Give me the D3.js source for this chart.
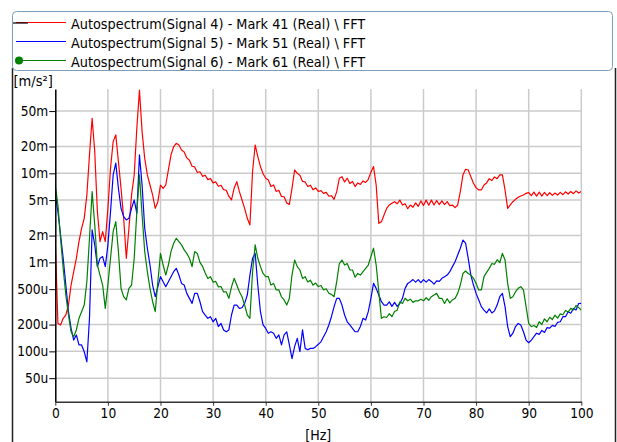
<!DOCTYPE html>
<html>
<head>
<meta charset="utf-8">
<script src="https://cdn.jsdelivr.net/npm/d3@7"></script>
<style>
body { margin: 0; background: #fff; }
svg { display: block; font-family: "DejaVu Sans Condensed", "DejaVu Sans", sans-serif; }
</style>
</head>
<body>
<svg id="chart" width="617" height="442"></svg>
<script>
// FFT bins: 0..100 Hz, 0.5 Hz apart
const fStart = 0
const fStep = 0.5

const names = [
	'Autospectrum(Signal 4) - Mark 41 (Real) \\ FFT',
	'Autospectrum(Signal 5) - Mark 51 (Real) \\ FFT',
	'Autospectrum(Signal 6) - Mark 61 (Real) \\ FFT'
]
const cols = ['#ff0000', '#0000ff', '#008000']

// values in u (1e-6 m/s^2)
const sig4 = [1710, 206, 198, 235, 256, 331, 556, 785, 1110, 1710,
	2410, 3120, 5710, 16100, 41500, 17500, 3710, 1710, 2210, 1710,
	4040, 11400, 22700, 27000, 13500, 6780, 3120, 1110, 2410, 5710,
	9580, 32000, 86000, 29400, 14700, 9580, 7390, 5710, 4040, 4800,
	7390, 6780, 7390, 10900, 16100, 19900, 21700, 20800, 18300, 17400,
	14900, 14000, 12000, 11800, 10200, 10400, 9250, 9500, 8500, 8700,
	7800, 8000, 7150, 7350, 6550, 6450, 5500, 5020, 6780, 8060,
	6220, 5020, 4040, 3120, 2630, 10400, 20800, 15400, 11900, 9900,
	8800, 8400, 7100, 7400, 6250, 6450, 5500, 5450, 4650, 4480,
	6780, 10900, 10000, 9500, 8100, 8000, 7100, 7350, 6550, 6850,
	6250, 6400, 5950, 6100, 5550, 5600, 5100, 6220, 8790, 9170,
	8000, 8800, 7700, 8100, 7100, 7800, 7500, 8200, 7900, 8560,
	10300, 11900, 7390, 2740, 2860, 3400, 4040, 4410, 4600, 4800,
	4550, 5000, 4400, 4550, 4000, 4400, 4150, 4650, 4250, 4900,
	4350, 5000, 4380, 5000, 4400, 4950, 4450, 4900, 4450, 4800,
	4330, 4400, 4110, 4410, 6220, 9580, 11100, 10900, 9170, 7720,
	6900, 6500, 6500, 7390, 7800, 8700, 8300, 9100, 8700, 9600,
	9580, 6500, 4040, 4410, 4800, 5100, 5380, 5560, 5710, 5960,
	6060, 5600, 6150, 5550, 6150, 5550, 6100, 5600, 6050, 5650,
	6000, 5700, 6100, 5750, 6200, 5850, 6250, 5900, 6350, 6000,
	6250]

const sig5 = [5710, 3710, 2030, 1110, 556, 279, 181, 134, 153, 118,
	118, 99, 76, 235, 2310, 1570, 895, 1110, 1160, 895,
	1570, 3710, 9580, 13000, 6780, 4040, 3260, 2990, 3120, 4040,
	5020, 3550, 16100, 7390, 2410, 1440, 933, 556, 411, 530,
	690, 606, 533, 606, 690, 785, 856, 720, 580, 556,
	448, 394, 346, 448, 448, 361, 279, 256, 235, 245,
	215, 235, 190, 206, 174, 166, 174, 256, 331, 331,
	304, 309, 346, 429, 720, 1110, 1260, 556, 279, 198,
	181, 160, 166, 160, 140, 153, 118, 153, 166, 118,
	83, 113, 140, 99, 174, 108, 104, 108, 108, 113,
	120, 128, 146, 166, 198, 245, 318, 394, 394, 331,
	256, 215, 198, 181, 166, 166, 190, 235, 225, 279,
	394, 580, 510, 429, 361, 331, 331, 360, 320, 355,
	320, 345, 394, 510, 580, 606, 640, 600, 640, 590,
	640, 600, 640, 610, 570, 620, 610, 661, 690, 720,
	785, 895, 1017, 1210, 1440, 1780, 1640, 1110, 720, 556,
	448, 378, 318, 291, 270, 300, 270, 285, 331, 411,
	448, 318, 190, 146, 160, 190, 206, 198, 166, 134,
	125, 134, 146, 160, 155, 172, 163, 185, 182, 196,
	190, 212, 215, 245, 245, 278, 268, 303, 292, 345,
	346]

const sig6 = [7200, 4410, 1860, 856, 429, 256, 166, 146, 174, 235,
	279, 331, 606, 1860, 6220, 2630, 933, 720, 556, 304,
	556, 1110, 2210, 2860, 1320, 510, 411, 378, 510, 556,
	1110, 3710, 9580, 3400, 1320, 785, 510, 361, 279, 606,
	1260, 933, 720, 933, 1320, 1640, 1860, 1710, 1570, 1380,
	1260, 1110, 895, 1320, 1260, 1000, 900, 760, 660, 690,
	600, 610, 530, 535, 465, 465, 394, 530, 661, 556,
	468, 411, 331, 256, 235, 785, 1570, 1110, 895, 750,
	690, 690, 555, 580, 490, 490, 410, 378, 331, 394,
	720, 1060, 895, 820, 660, 690, 600, 630, 555, 585,
	535, 550, 490, 505, 450, 437, 411, 606, 970, 1060,
	933, 970, 820, 820, 680, 750, 720, 785, 856, 933,
	1160, 1440, 933, 468, 235, 245, 240, 265, 245, 280,
	290, 360, 345, 395, 370, 385, 355, 370, 370, 385,
	370, 400, 375, 411, 429, 448, 394, 395, 345, 390,
	350, 378, 394, 448, 556, 750, 800, 750, 720, 661,
	580, 490, 490, 690, 770, 856, 970, 950, 1070, 990,
	1260, 1060, 580, 394, 411, 468, 510, 533, 490, 318,
	206, 190, 195, 185, 215, 200, 232, 215, 242, 228,
	255, 236, 264, 258, 288, 276, 305, 292, 328, 310,
	291]

const xTicks = [0, 10, 20, 30, 40, 50, 60, 70, 80, 90, 100]
const yTicks = [50, 100, 200, 500, 1000, 2000, 5000, 10000, 20000, 50000]

const series = [sig4, sig5, sig6]

const svg = d3.select('#chart')
const font = '"DejaVu Sans Condensed", "DejaVu Sans", sans-serif'

const x = d3.scaleLinear().domain([0, 100]).range([55.3, 581.3])
const y = d3.scaleLog().domain([27.2, 88500]).range([401.7, 89])

const fmt = v => v >= 1000 ? (v / 1000) + 'm' : v + 'u'

// frame
svg.append('line').attr('x1', 12.5).attr('x2', 12.5).attr('y1', 68).attr('y2', 442)
	.attr('stroke', '#222').attr('stroke-width', 1.5)
svg.append('line').attr('x1', 615.5).attr('x2', 615.5).attr('y1', 68).attr('y2', 442)
	.attr('stroke', '#222').attr('stroke-width', 1.5)

// grid
svg.append('g')
	.selectAll('line')
	.data(xTicks.slice(1))
	.join('line')
	.attr('x1', d => x(d)).attr('x2', d => x(d))
	.attr('y1', y.range()[1]).attr('y2', y.range()[0])
	.attr('stroke', '#cbcbcb').attr('stroke-width', 1.5)

svg.append('g')
	.selectAll('line')
	.data(yTicks)
	.join('line')
	.attr('x1', x(0)).attr('x2', x(100))
	.attr('y1', d => y(d)).attr('y2', d => y(d))
	.attr('stroke', '#cbcbcb').attr('stroke-width', 1.5)

svg.append('clipPath').attr('id', 'plot')
	.append('rect')
	.attr('x', x(0)).attr('y', y.range()[1])
	.attr('width', x(100) - x(0)).attr('height', y.range()[0] - y.range()[1])

const line = d3.line()
	.x((d, i) => x(fStart + i * fStep))
	.y(d => y(d))

svg.append('g')
	.attr('clip-path', 'url(#plot)')
	.selectAll('path')
	.data(series)
	.join('path')
	.attr('d', line)
	.attr('fill', 'none')
	.attr('stroke', (d, i) => cols[i])
	.attr('stroke-width', 1.2)
	.attr('stroke-linejoin', 'round')

// axes
const yAxis = svg.append('g')
	.attr('transform', `translate(${x(0)},0)`)
	.call(d3.axisLeft(y).tickValues(yTicks).tickFormat(fmt).tickSize(6).tickPadding(1).tickSizeOuter(0))
yAxis.attr('font-family', font).attr('font-size', 13.6)
yAxis.select('.domain').attr('stroke', '#000').attr('stroke-width', 1.5)
yAxis.selectAll('.tick line').attr('stroke', '#000')
yAxis.selectAll('.tick text').attr('fill', '#000')

const xAxis = svg.append('g')
	.attr('transform', `translate(0,${y.range()[0]})`)
	.call(d3.axisBottom(x).tickValues(xTicks).tickSize(4).tickPadding(3).tickSizeOuter(0))
xAxis.attr('font-family', font).attr('font-size', 13.6)
xAxis.select('.domain').attr('stroke', '#333').attr('stroke-width', 1.5)
xAxis.selectAll('.tick line').attr('stroke', '#333')
xAxis.selectAll('.tick text').attr('fill', '#000')

svg.append('text')
	.attr('x', 13.5).attr('y', 86)
	.attr('font-size', 14.5)
	.text('[m/s²]')

svg.append('text')
	.attr('x', (x(0) + x(100)) / 2).attr('y', 440)
	.attr('text-anchor', 'middle')
	.attr('font-size', 14)
	.text('[Hz]')

/*legend*/
svg.append('rect')
	.attr('x', 12.5).attr('y', 11.5)
	.attr('width', 600).attr('height', 59)
	.attr('rx', 4)
	.attr('fill', 'none')
	.attr('stroke', '#7f9db9')

const legendG = svg.selectAll('.legend')
	.data(names)
	.join('g')
	.classed('legend', true)
	.attr('transform', (d, i) => `translate(0,${22.5 + i * 19})`)

legendG.append('line')
	.attr('x1', 16).attr('x2', 66)
	.attr('stroke', (d, i) => cols[i])
	.attr('stroke-width', 1.2)

legendG.append('text')
	.attr('x', 71)
	.attr('y', 1.5)
	.attr('dy', '0.35em')
	.attr('font-size', 14.3)
	.text(d => d)

// selection marks on the first and last entry
svg.append('line')
	.attr('x1', 13).attr('x2', 28).attr('y1', 23).attr('y2', 23)
	.attr('stroke', '#000').attr('stroke-width', 1.2)
svg.append('circle')
	.attr('cx', 19).attr('cy', 60.5).attr('r', 4)
	.attr('fill', cols[2])
</script>
</body>
</html>
